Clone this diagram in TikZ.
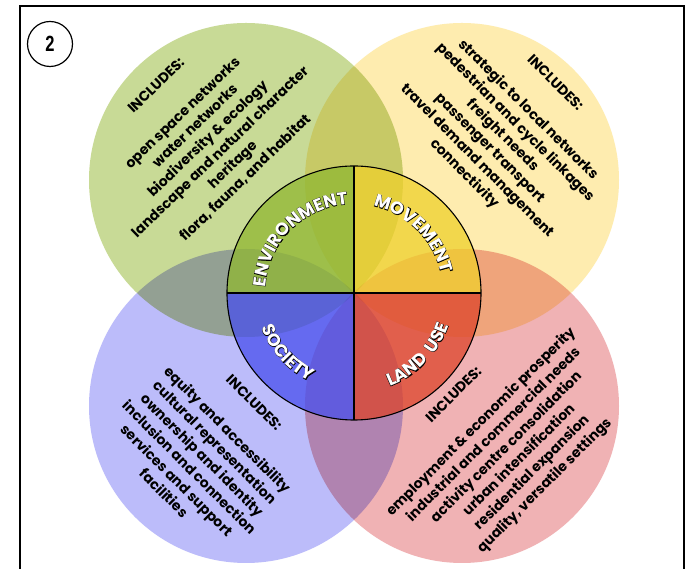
\documentclass[tikz,border=0pt]{standalone}
\usepackage{fontspec}
\usepackage{tikz}
\usetikzlibrary{
  positioning,      % relative placement
  calc,             % Calculations $...$
  decorations.text  % Labels along the rim of the wheel
}
\newfontfamily\listfont{Poppins}
\newfontfamily\badgefont{Liberation Sans}
\newfontfamily\rimfill{Poppins Bold}
\newfontfamily\rimedge{Poppins Bold}[FakeBold=4]
\definecolor{envpale}{RGB}{200,218,150}
\definecolor{movpale}{RGB}{254,236,175}
\definecolor{socpale}{RGB}{188,188,250}
\definecolor{landpale}{RGB}{240,178,180}
\definecolor{envdeep}{RGB}{144,183,49}
\definecolor{movdeep}{RGB}{239,208,44}
\definecolor{socdeep}{RGB}{72,79,237}
\definecolor{landdeep}{RGB}{221,68,42}
\def\mywheelr{127}
\tikzset{
  x=1pt,
  y=1pt,
  theme circle/.style={
    circle,
    minimum size=314pt,
    inner sep=0pt,
    outer sep=0pt
  },
  wheel/.style={
    circle,
    minimum size=254pt,
    inner sep=0pt,
    outer sep=0pt
  },
  list/.style={
    align=center,
    inner sep=0pt,
    font=\listfont\bfseries\fontsize{14}{18}\selectfont
  },
  slice/.style={fill opacity=0.75},
  rim/.style={
    decorate,
    decoration={text along path, text align=center, text={#1}}
  }
}
% white capitals with a black rim, set along an arc of the wheel
\newcommand{\rimlabel}[4]{%
  \path[rim={|\rimedge\fontsize{17.5}{17.5}\selectfont\color{black}|#4}]
    (hub) ++(#1:#3) arc[start angle=#1, end angle=#2, radius=#3];
  \path[rim={|\rimfill\fontsize{17.5}{17.5}\selectfont\color{white}|#4}]
    (hub) ++(#1:#3) arc[start angle=#1, end angle=#2, radius=#3];
}

\begin{document}
\begin{tikzpicture}
\fill[white] (0,0) rectangle (686,569);
\useasboundingbox (0,0) rectangle (686,569);
\draw[line width=1.6pt] (20,0) |- (684,563) -- (684,0);
\node[draw, circle, minimum size=45pt, line width=1.2pt,
      font=\badgefont\bfseries\fontsize{22}{22}\selectfont] (badge) at (50,525) {\scalebox{0.75}[1]{2}};

% the four themes
\begin{scope}[blend mode=multiply]
\node[theme circle, fill=envpale]  (envcirc)  at (246,389) {};
\node[theme circle, fill=movpale]  (movcirc)  at (462,389) {};
\node[theme circle, fill=socpale]  (soccirc)  at (246,163) {};
\node[theme circle, fill=landpale] (landcirc) at (462,163) {};
\end{scope}

% the wheel
\node[wheel] (hub) at (354,276) {};
\fill[envdeep, slice]  (hub.center) -- (hub.west)  arc[start angle=180, end angle=90,  radius=\mywheelr] -- cycle;
\fill[movdeep, slice]  (hub.center) -- (hub.north) arc[start angle=90,  end angle=0,   radius=\mywheelr] -- cycle;
\fill[landdeep, slice] (hub.center) -- (hub.east)  arc[start angle=0,   end angle=-90, radius=\mywheelr] -- cycle;
\fill[socdeep, slice]  (hub.center) -- (hub.south) arc[start angle=270, end angle=180, radius=\mywheelr] -- cycle;
\draw[line width=1.1pt] (hub.center) circle[radius=\mywheelr];
\draw[line width=1.1pt] (hub.west) -- (hub.east) (hub.north) -- (hub.south);

\rimlabel{205}{65}{89}{ENVIRONMENT}
\rimlabel{115}{-25}{89}{MOVEMENT}
\rimlabel{152}{292}{99}{SOCIETY}
\rimlabel{246}{386}{100}{LAND{\kern4pt} USE}

% what each theme includes
\node[list, rotate=44] (envlist) at ([shift={(-45,48)}]envcirc.center)
  {INCLUDES:\\[20pt] open space networks\\ water networks\\ biodiversity \& ecology\\
   landscape and natural character\\ heritage\\ flora, fauna, and habitat};
\node[list, rotate=-45] (movlist) at ([shift={(47,51)}]movcirc.center)
  {INCLUDES:\\[20pt] strategic to local networks\\ pedestrian and cycle linkages\\ freight needs\\
   passenger transport\\ travel demand management\\ connectivity};
\node[list, rotate=-45] (soclist) at ([shift={(-37,-42)}]soccirc.center)
  {INCLUDES:\\[20pt] equity and accessibility\\ cultural representation\\ ownership and identity\\
   inclusion and connection\\ services and support\\ facilities};
\node[list, rotate=45] (landlist) at ([shift={(38,-35)}]landcirc.center)
  {INCLUDES:\\[20pt] employment \& economic prosperity\\ industrial and commercial needs\\
   activity centre consolidation\\ urban intensification\\ residential expansion\\ quality, versatile settings};
\end{tikzpicture}
\end{document}
